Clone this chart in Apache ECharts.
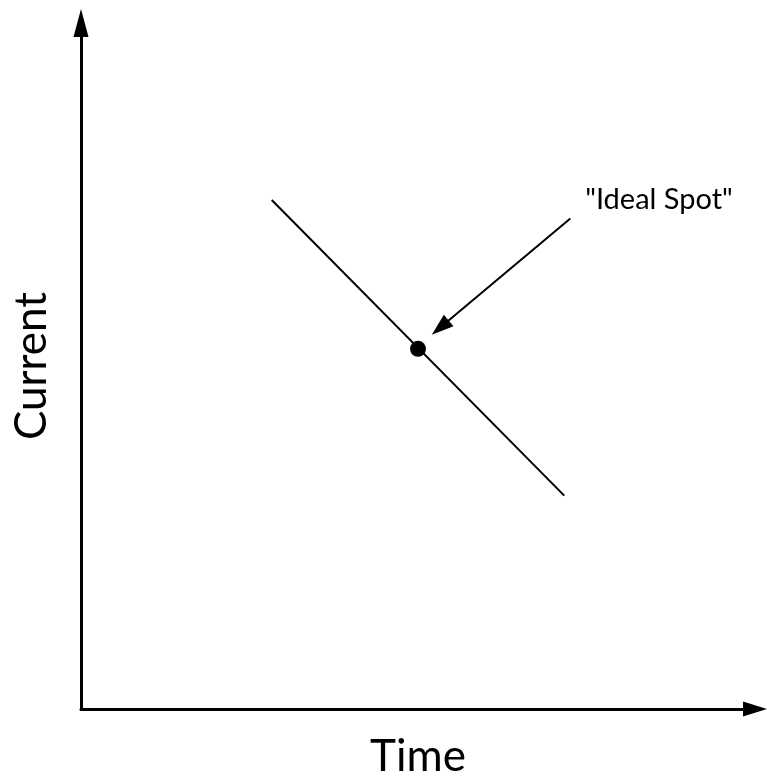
<!DOCTYPE html>
<html>
<head>
<meta charset="utf-8">
<script src="https://cdn.jsdelivr.net/npm/echarts@6/dist/echarts.min.js"></script>
<style>html,body{margin:0;padding:0;background:#fff;}#c{width:767px;height:784px;}</style>
</head>
<body>
<div id="c"></div>
<script>
// Data (value units on 0..100 axes)
const xAxisName = 'Time';
const yAxisName = 'Current';
const lineX = [28.3, 71.7];
const lineY = [74.2, 31.1];
const idealX = [50];
const idealY = [52.5];
const arrowFrom = [72.6, 71.5];
const arrowTo = [53.3, 55.6];
const labelPos = [74.8, 74.3];
const labelText = '"Ideal Spot"';

const FONT = 'Lato, "Open Sans", sans-serif';
const chart = echarts.init(document.getElementById('c'), null, {renderer: 'canvas'});
chart.setOption({
  animation: false,
  backgroundColor: '#fff',
  grid: {left: 81, right: 12, top: 23, bottom: 70, containLabel: false},
  xAxis: {
    type: 'value', min: 0, max: 100,
    name: xAxisName, nameLocation: 'middle', nameGap: 26,
    nameTextStyle: {fontSize: 44, color: '#000', fontFamily: FONT},
    axisLine: {show: true, onZero: false, symbol: ['none', 'triangle'], symbolSize: [15, 24],
      lineStyle: {color: '#000', width: 3}},
    axisTick: {show: false}, axisLabel: {show: false}, splitLine: {show: false}
  },
  yAxis: {
    type: 'value', min: 0, max: 100,
    name: yAxisName, nameLocation: 'middle', nameGap: 27,
    nameTextStyle: {fontSize: 44, color: '#000', fontFamily: FONT},
    axisLine: {show: true, onZero: false, symbol: ['none', 'triangle'], symbolSize: [15, 28],
      lineStyle: {color: '#000', width: 3}},
    axisTick: {show: false}, axisLabel: {show: false}, splitLine: {show: false}
  },
  series: [
    {
      type: 'line',
      data: lineX.map((x, i) => [x, lineY[i]]),
      showSymbol: false, symbol: 'none',
      lineStyle: {color: '#000', width: 2},
      markLine: {
        silent: true,
        symbol: ['none', 'triangle'],
        symbolSize: [15, 22],
        label: {show: false},
        lineStyle: {color: '#000', width: 2, type: 'solid', opacity: 1},
        data: [[{coord: arrowFrom}, {coord: arrowTo}]]
      }
    },
    {
      type: 'scatter',
      data: idealX.map((x, i) => [x, idealY[i]]),
      symbol: 'circle', symbolSize: 16,
      itemStyle: {color: '#000', opacity: 1}
    },
    {
      type: 'scatter',
      data: [{value: labelPos, name: labelText}],
      symbolSize: 0,
      itemStyle: {opacity: 1},
      label: {show: true, position: 'inside', align: 'left', verticalAlign: 'middle',
        formatter: '{b}', fontSize: 29, color: '#000', opacity: 1, fontFamily: FONT}
    }
  ]
});
</script>
</body>
</html>
